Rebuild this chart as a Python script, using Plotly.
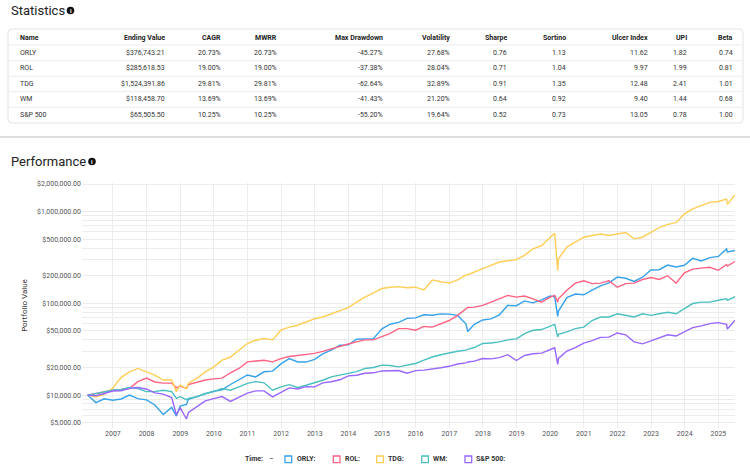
import plotly.graph_objects as go

# ---- statistics table ----
names = ["ORLY", "ROL", "TDG", "WM", "S&P 500"]
ending_value = [376743.21, 285618.53, 1524391.86, 118458.70, 65505.50]
cagr = [20.73, 19.00, 29.81, 13.69, 10.25]
mwrr = [20.73, 19.00, 29.81, 13.69, 10.25]
max_drawdown = [-45.27, -37.38, -62.64, -41.43, -55.20]
volatility = [27.68, 28.04, 32.89, 21.20, 19.64]
sharpe = [0.76, 0.71, 0.91, 0.64, 0.52]
sortino = [1.13, 1.04, 1.35, 0.92, 0.73]
ulcer_index = [11.62, 9.97, 12.48, 9.40, 13.05]
upi = [1.82, 1.99, 2.41, 1.44, 0.78]
beta = [0.74, 0.81, 1.01, 0.68, 1.00]

# ---- performance (portfolio value, $10,000 start) ----
dates = [
    "2006-03-31", "2006-06-30", "2006-09-29", "2006-12-29",
    "2007-03-30", "2007-06-29", "2007-09-28", "2007-12-31",
    "2008-03-31", "2008-06-30", "2008-09-30", "2008-11-20", "2008-12-31",
    "2009-03-09", "2009-03-31", "2009-06-30", "2009-09-30", "2009-12-31",
    "2010-03-31", "2010-06-30", "2010-09-30", "2010-12-31",
    "2011-03-31", "2011-06-30", "2011-09-30", "2011-12-30",
    "2012-03-30", "2012-06-29", "2012-09-28", "2012-12-31",
    "2013-03-28", "2013-06-28", "2013-09-30", "2013-12-31",
    "2014-03-31", "2014-06-30", "2014-09-30", "2014-12-31",
    "2015-03-31", "2015-06-30", "2015-09-30", "2015-12-31",
    "2016-03-31", "2016-06-30", "2016-09-30", "2016-12-30",
    "2017-03-31", "2017-06-30", "2017-07-20", "2017-09-29", "2017-12-29",
    "2018-03-29", "2018-06-29", "2018-09-28", "2018-12-31",
    "2019-03-29", "2019-06-28", "2019-09-30", "2019-12-31",
    "2020-02-19", "2020-03-23", "2020-03-31", "2020-06-30", "2020-09-30", "2020-12-31",
    "2021-03-31", "2021-06-30", "2021-09-30", "2021-12-31",
    "2022-03-31", "2022-06-30", "2022-09-30", "2022-12-30",
    "2023-03-31", "2023-06-30", "2023-09-29", "2023-12-29",
    "2024-03-28", "2024-06-28", "2024-09-30", "2024-12-31",
    "2025-03-31", "2025-04-08", "2025-06-30",
]

orly = [
    10000, 8274, 9096, 8795,
    9068, 10000, 9151, 8877,
    7808, 6137, 7342, 5900, 7600,
    7900, 9000, 9700, 10300, 11000,
    11425, 13041, 14575, 16548,
    15753, 17945, 18247, 21890,
    25014, 22932, 22904, 24493,
    28082, 30849, 34959, 35260,
    40657, 41260, 41205, 52767,
    59233, 61918, 68493, 69425,
    74986, 74274, 76740, 76274,
    73918, 59918, 49315, 59014, 65890,
    67781, 74959, 95151, 94329,
    106384, 101178, 109178, 120082,
    117800, 72000, 82493, 115534, 126329, 124000,
    138986, 155123, 167425, 193479,
    187644, 173068, 192685, 231233,
    232603, 261726, 248986, 260301,
    309288, 289342, 315507, 324877,
    392493, 364384, 376743.21,
]

rol = [
    10000, 10400, 10900, 11300,
    11500, 11800, 14000, 15300,
    13900, 13500, 13500, 12000, 12500,
    11800, 13000, 13900, 14600, 15000,
    15300, 17500, 19500, 23000,
    23400, 24000, 23000, 25000,
    26300, 27000, 27500, 28500,
    30000, 32000, 34000, 36000,
    38000, 40000, 40000, 43000,
    47000, 53000, 53000, 51000,
    56000, 55000, 60000, 65000,
    74000, 87000, 90000, 91000, 95000,
    103000, 112000, 122000, 117000,
    120000, 112000, 103000, 117000,
    122000, 103000, 112000, 139000, 166000, 176000,
    164000, 166000, 176000, 150000,
    164000, 166000, 182000, 191000,
    182000, 200000, 166000, 215000,
    236000, 242000, 247000, 229000,
    265000, 255000, 285618.53,
]

tdg = [
    10000, 9600, 10200, 11900,
    15500, 17900, 19500, 17900,
    16500, 14600, 14600, 10900, 12800,
    11800, 13500, 15200, 17900, 20300,
    24000, 26000, 30900, 36500,
    39600, 41400, 40000, 51000,
    55000, 57700, 62600, 68000,
    71000, 77000, 84000, 90000,
    103000, 117000, 130000, 145000,
    150000, 152000, 148000, 150000,
    140000, 180000, 172000, 166000,
    180000, 204000, 205000, 220000, 240000,
    260000, 282000, 290000, 300000,
    333000, 393000, 427000, 526000,
    580000, 228000, 306000, 410000, 464000, 526000,
    549000, 571000, 549000, 571000,
    593000, 505000, 526000, 593000,
    671000, 727000, 757000, 944000,
    1070000, 1160000, 1260000, 1290000,
    1370000, 1200000, 1524391.86,
]

wm = [
    10000, 10400, 10900, 11300,
    11500, 12100, 11800, 10900,
    10900, 11300, 10900, 9200, 9600,
    8900, 9200, 9600, 10400, 10900,
    11800, 11300, 12300, 13400,
    14000, 13600, 11300, 12300,
    13000, 12100, 12800, 13600,
    14500, 15800, 16500, 17200,
    18000, 19500, 20000, 21200,
    21000, 20300, 21000, 22100,
    24000, 26000, 27500, 28800,
    30000, 30900, 31500, 33000, 36500,
    37000, 38000, 40000, 41000,
    46800, 50900, 51800, 56000,
    59000, 43000, 46000, 48800, 53000, 55000,
    65000, 71000, 71000, 77000,
    74000, 71000, 77000, 74000,
    77000, 80000, 77000, 87000,
    99500, 103000, 103000, 108000,
    112000, 108000, 118458.70,
]

sp500 = [
    10000, 9847, 10401, 11085,
    11153, 11844, 12082, 11664,
    10554, 10253, 9379, 6061, 7292,
    5484, 6470, 7482, 8640, 9152,
    9634, 8531, 9480, 10494,
    11106, 11110, 9551, 10666,
    11987, 11643, 12368, 12290,
    13577, 13955, 14674, 16188,
    16465, 17310, 17486, 18333,
    18486, 18518, 17304, 18496,
    18716, 19148, 19858, 20592,
    21822, 22467, 22964, 23453, 24998,
    24789, 25616, 27574, 23819,
    27036, 28182, 28634, 31202,
    32754, 21653, 25065, 30183, 32877, 36867,
    39157, 42532, 42804, 47549,
    45377, 38069, 36214, 38937,
    41836, 45490, 44013, 49162,
    54369, 56733, 60116, 61618,
    59028, 52436, 65505.50,
]

series = [orly, rol, tdg, wm, sp500]
colors = ["#36A2EB", "#FF6384", "#FFCE56", "#4BC0C0", "#9966FF"]

years = list(range(2007, 2026))

# page geometry (pixels) -> paper coordinates
W, H = 750, 464
L, R, T, B = 82, 15, 183, 36


def px(x):
    return (x - L) / (W - L - R)


def py(y):
    return (H - B - y) / (H - T - B)


fig = go.Figure()
for name, vals, col in zip(names, series, colors):
    fig.add_trace(go.Scatter(x=dates, y=vals, name=name, mode="lines",
                             line=dict(color=col, width=1.4), showlegend=False))

# log grid 1..9 x 10^n, labels only at 1, 2, 5
tickvals, ticktext = [], []
for e in range(3, 7):
    for m in range(1, 10):
        v = m * 10 ** e
        if 4400 <= v <= 2030000:
            tickvals.append(v)
            ticktext.append(f"${v:,.2f}" if m in (1, 2, 5) else "")

shapes = []
annotations = []

# header titles with info icons
for label, x0, yc, icx in [("Statistics", 9, 10.5, 70.5), ("Performance", 8.5, 161.5, 92)]:
    annotations.append(dict(xref="paper", yref="paper", x=px(x0), y=py(yc), text=label,
                            showarrow=False, xanchor="left", yanchor="middle",
                            font=dict(size=13, color="#222")))
    shapes.append(dict(type="circle", xref="paper", yref="paper",
                       x0=px(icx - 3.8), x1=px(icx + 3.8), y0=py(yc - 3.8), y1=py(yc + 3.8),
                       fillcolor="#111", line=dict(width=0)))
    annotations.append(dict(xref="paper", yref="paper", x=px(icx), y=py(yc), text="<b>i</b>",
                            showarrow=False, xanchor="center", yanchor="middle",
                            font=dict(size=6, color="white")))

# table box with rounded corners
bx0, bx1, by0, by1, r = 8, 743, 29, 123, 4
path = (f"M {px(bx0 + r)} {py(by0)} L {px(bx1 - r)} {py(by0)} "
        f"Q {px(bx1)} {py(by0)} {px(bx1)} {py(by0 + r)} L {px(bx1)} {py(by1 - r)} "
        f"Q {px(bx1)} {py(by1)} {px(bx1 - r)} {py(by1)} L {px(bx0 + r)} {py(by1)} "
        f"Q {px(bx0)} {py(by1)} {px(bx0)} {py(by1 - r)} L {px(bx0)} {py(by0 + r)} "
        f"Q {px(bx0)} {py(by0)} {px(bx0 + r)} {py(by0)} Z")
shapes.append(dict(type="path", xref="paper", yref="paper", path=path,
                   line=dict(color="#e3e3e3", width=1)))
for ys in [45, 60.7, 76.2, 91.7, 107.2]:
    shapes.append(dict(type="line", xref="paper", yref="paper",
                       x0=px(bx0 + 1), x1=px(bx1 - 1), y0=py(ys), y1=py(ys),
                       line=dict(color="#ececec", width=1)))
# section separator
shapes.append(dict(type="line", xref="paper", yref="paper", x0=px(0), x1=px(W),
                   y0=py(137), y1=py(137), line=dict(color="#dedede", width=2)))

columns = [
    ("Name", names, "left", 18),
    ("Ending Value", [f"${v:,.2f}" for v in ending_value], "right", 167),
    ("CAGR", [f"{v:.2f}%" for v in cagr], "right", 223),
    ("MWRR", [f"{v:.2f}%" for v in mwrr], "right", 278.5),
    ("Max Drawdown", [f"{v:.2f}%" for v in max_drawdown], "right", 385),
    ("Volatility", [f"{v:.2f}%" for v in volatility], "right", 452),
    ("Sharpe", [f"{v:.2f}" for v in sharpe], "right", 509),
    ("Sortino", [f"{v:.2f}" for v in sortino], "right", 568),
    ("Ulcer Index", [f"{v:.2f}" for v in ulcer_index], "right", 649.5),
    ("UPI", [f"{v:.2f}" for v in upi], "right", 689),
    ("Beta", [f"{v:.2f}" for v in beta], "right", 734.5),
]
row_y = [37.5, 53, 68.4, 84, 99.4, 115]
for head, vals, align, xpos in columns:
    annotations.append(dict(xref="paper", yref="paper", x=px(xpos), y=py(row_y[0]),
                            text=f"<b>{head}</b>", showarrow=False, xanchor=align,
                            yanchor="middle", font=dict(size=7, color="#222")))
    for v, yy in zip(vals, row_y[1:]):
        annotations.append(dict(xref="paper", yref="paper", x=px(xpos), y=py(yy),
                                text=v, showarrow=False, xanchor=align, yanchor="middle",
                                font=dict(size=7, color="#333")))

# bottom legend
leg_y = 459.3
annotations.append(dict(xref="paper", yref="paper", x=px(243), y=py(leg_y), text="<b>Time:</b>",
                        showarrow=False, xanchor="left", yanchor="middle",
                        font=dict(size=7, color="#333")))
annotations.append(dict(xref="paper", yref="paper", x=px(267), y=py(leg_y), text="–",
                        showarrow=False, xanchor="left", yanchor="middle",
                        font=dict(size=7, color="#333")))
box_x = [285, 333.3, 376.7, 421.7, 465]
for name, col, bx in zip(names, colors, box_x):
    shapes.append(dict(type="rect", xref="paper", yref="paper",
                       x0=px(bx), x1=px(bx + 6.7), y0=py(leg_y - 3.3), y1=py(leg_y + 3.3),
                       line=dict(color=col, width=1.3), fillcolor="rgba(0,0,0,0)"))
    annotations.append(dict(xref="paper", yref="paper", x=px(bx + 9.5), y=py(leg_y),
                            text=f"<b>{name}:</b>", showarrow=False, xanchor="left",
                            yanchor="middle", font=dict(size=7, color="#333")))

fig.update_layout(
    width=W, height=H,
    margin=dict(l=L, r=R, t=T, b=B),
    paper_bgcolor="white", plot_bgcolor="white",
    font=dict(family="Roboto", color="#333"),
    showlegend=False,
    shapes=shapes,
    annotations=annotations,
    xaxis=dict(
        type="date", range=["2006-01-30", "2025-06-30"],
        tickvals=[f"{y}-01-01" for y in years], ticktext=[str(y) for y in years],
        showgrid=True, gridcolor="#ececec", gridwidth=1.3,
        zeroline=False, showline=False, ticks="",
        tickfont=dict(size=7, color="#555"),
    ),
    yaxis=dict(
        type="log", range=[3.641, 6.312],
        tickvals=tickvals, ticktext=ticktext,
        showgrid=True, gridcolor="#ececec", gridwidth=1,
        zeroline=False, showline=False, ticks="",
        tickfont=dict(size=7, color="#555"),
        title=dict(text="Portfolio Value", font=dict(size=8, color="#333"), standoff=8),
    ),
)

# the page body has a default 8px margin; remove it so the figure fills the window
fig.write_html("out.html", config={"displayModeBar": False},
               post_script="document.body.style.margin='0';")
